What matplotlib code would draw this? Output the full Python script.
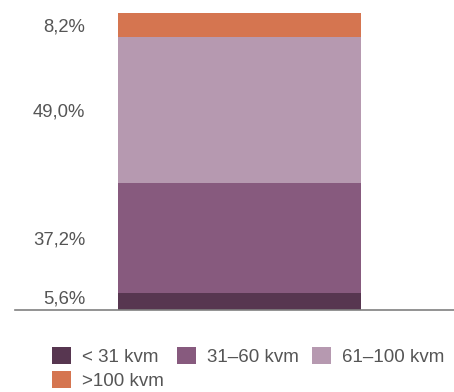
import matplotlib.pyplot as plt
from matplotlib.patches import Patch

categories = ["< 31 kvm", "31–60 kvm", "61–100 kvm", ">100 kvm"]
shares = [5.6, 37.2, 49.0, 8.2]
share_labels = ["5,6%", "37,2%", "49,0%", "8,2%"]
colors = ["#573650", "#875a7e", "#b699b0", "#d57550"]

plt.rcParams['font.family'] = ['Liberation Sans', 'DejaVu Sans']

W, H = 454, 392
fig = plt.figure(figsize=(W / 100, H / 100), dpi=100)
ax = fig.add_axes([15 / W, 1 - 310 / H, 439 / W, (310 - 13) / H])

bar_left = (118 - 15) / 439
bar_width = (361 - 118) / 439
bottom = 0
for val, lab, col in zip(shares, share_labels, colors):
    ax.bar(bar_left, val, width=bar_width, bottom=bottom, color=col,
           align='edge', linewidth=0)
    # keep the label of a thin segment clear of the baseline
    y = max(bottom + val / 2, 4.5)
    ax.text((85 - 15) / 439, y, lab, ha='right',
            va='center_baseline', fontsize=13.3, color='#555555')
    bottom += val

ax.set_xlim(0, 1)
ax.set_ylim(0, 100)
ax.set_xticks([])
ax.set_yticks([])
for s in ['top', 'left', 'right']:
    ax.spines[s].set_visible(False)
ax.spines['bottom'].set_color('#808080')
ax.spines['bottom'].set_linewidth(1.2)

# legend filled row by row: three entries on the first row, one on the second
handles = [Patch(facecolor=c, edgecolor='none') for c in colors]
order = [0, 3, 1, 2]
fig.legend([handles[i] for i in order], [categories[i] for i in order],
           loc='upper left', bbox_to_anchor=(52 / W, 1 - 347 / H), ncol=3,
           frameon=False, fontsize=13.5, labelcolor='#555555',
           handlelength=1.0, handleheight=1.0, handletextpad=0.6,
           columnspacing=0.7, labelspacing=0.3, borderpad=0,
           borderaxespad=0)

fig.savefig("out.png", dpi=100)
